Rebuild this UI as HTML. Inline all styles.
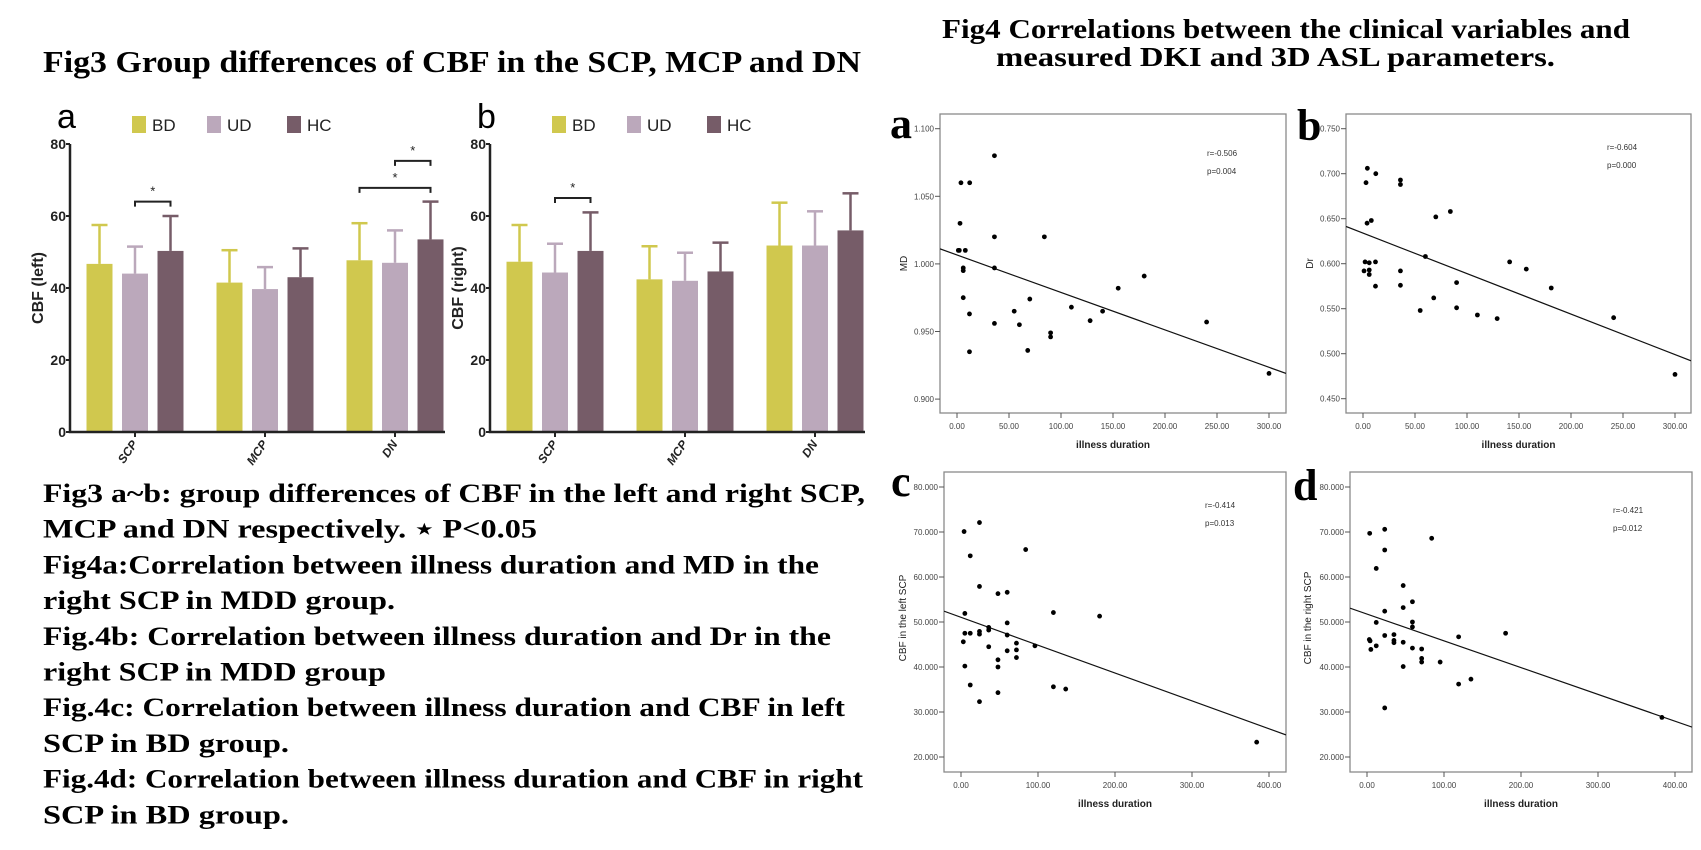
<!DOCTYPE html>
<html><head><meta charset="utf-8"><style>
html,body{margin:0;padding:0;background:#fff;}
svg{display:block;}
</style></head><body>
<svg id="root" width="1701" height="850" viewBox="0 0 1701 850" xmlns="http://www.w3.org/2000/svg">
<g font-family="Liberation Serif, serif" font-weight="bold" fill="#000">
<text x="43" y="72" font-size="31" textLength="818" lengthAdjust="spacingAndGlyphs">Fig3 Group differences of CBF in the SCP, MCP and DN</text>
<text x="942" y="38" font-size="27" textLength="688" lengthAdjust="spacingAndGlyphs">Fig4 Correlations between the clinical variables and</text>
<text x="996" y="66" font-size="27" textLength="559" lengthAdjust="spacingAndGlyphs">measured DKI and 3D ASL parameters.</text>
</g>
<g id="caption" font-family="Liberation Serif, serif" font-weight="bold" font-size="26" fill="#000"></g>
<g id="bars"></g>
<g id="scatters"></g>
</svg>
<script>
// ---- Bar chart data ----
const regions = ["SCP","MCP","DN"];
const groups = ["BD","UD","HC"];
const leftMeans = [[46.7,44.0,50.3],[41.5,39.7,43.0],[47.7,47.0,53.5]];
const leftErr   = [[57.5,51.5,60.0],[50.5,45.8,51.0],[58.0,56.0,64.0]];
const rightMeans= [[47.3,44.3,50.3],[42.4,42.0,44.6],[51.8,51.8,56.0]];
const rightErr  = [[57.5,52.3,61.0],[51.6,49.8,52.6],[63.7,61.3,66.3]];
const barTicks = [0,20,40,60,80];
const leftSig = [[0,1,2,64],[2,0,2,67.8],[2,1,2,75.3]];
const rightSig = [[0,1,2,65]];

// ---- Scatter data ----
const aX=[36,3.8,12.2,2.9,1.3,2.2,8,36,84,6,6,36,6,12,36,55,60,70,68,12,90,90,110,128,140,155,180,240,300];
const aY=[1.080,1.060,1.060,1.030,1.010,1.010,1.010,1.020,1.020,0.997,0.995,0.997,0.975,0.963,0.956,0.965,0.955,0.974,0.936,0.935,0.949,0.946,0.968,0.958,0.965,0.982,0.991,0.957,0.919];
const bX=[4.2,2.9,12.3,36,36,3.9,8,70,84,2,6,12,1,6,6,12,36,36,60,55,68,90,90,110,129,141,157,181,241,300];
const bY=[0.706,0.690,0.700,0.693,0.688,0.645,0.648,0.652,0.658,0.602,0.601,0.602,0.592,0.593,0.588,0.575,0.592,0.576,0.608,0.548,0.562,0.579,0.551,0.543,0.539,0.602,0.594,0.573,0.540,0.477];
const cX=[4,24,12,84,24,48,60,5,120,180,60,5,12,24,24,36,36,60,3,72,36,96,72,60,72,48,48,5,12,120,136,48,24,384];
const cY=[70.1,72.1,64.7,66.1,57.9,56.3,56.6,51.9,52.1,51.3,49.8,47.5,47.5,47.9,47.3,48.8,48.2,47.1,45.6,45.3,44.5,44.7,43.8,43.6,42.1,41.6,40.0,40.2,36.0,35.6,35.1,34.3,32.3,23.3];
const dX=[3.5,23,23,84,12,47,59,23,47,12,59,59,180,119,23,35,35,35,3,4,5,12,47,59,71,71,71,95,47,119,135,23,383];
const dY=[69.7,70.6,66.0,68.6,61.9,58.1,54.5,52.4,53.2,49.9,50.0,48.9,47.5,46.7,47.0,47.2,45.9,45.4,46.1,45.8,43.9,44.7,45.5,44.2,44.0,41.9,41.1,41.1,40.1,36.2,37.3,30.9,28.8];
const fitA=[1.0066,-0.000277], fitB=[0.634,-0.00045], fitC=[51.04,-0.0619], fitD=[51.76,-0.0595];
const statsA=["r=-0.506","p=0.004"], statsB=["r=-0.604","p=0.000"], statsC=["r=-0.414","p=0.013"], statsD=["r=-0.421","p=0.012"];
const ticksA=[0.900,0.950,1.000,1.050,1.100], ticksB=[0.450,0.500,0.550,0.600,0.650,0.700,0.750], ticksCD=[20,30,40,50,60,70,80];
const xTicksAB=[0,50,100,150,200,250,300], xTicksCD=[0,100,200,300,400];

const captionLines = [
 ["Fig3 a~b: group differences of CBF in the left and right SCP,",822],
 ["MCP and DN respectively.  \u22c6 P<0.05",494],
 ["Fig4a:Correlation between illness duration and MD in the",776],
 ["right SCP in MDD group.",352],
 ["Fig.4b: Correlation between illness duration and Dr in the",788],
 ["right SCP in MDD group",343],
 ["Fig.4c: Correlation between illness duration and CBF in left",802],
 ["SCP in BD group.",246],
 ["Fig.4d: Correlation between illness duration and CBF in right",820],
 ["SCP in BD group.",246]
];

const NS="http://www.w3.org/2000/svg";
function mk(tag, attrs, parent){const e=document.createElementNS(NS,tag);for(const k in attrs)e.setAttribute(k,attrs[k]);parent.appendChild(e);return e;}

// caption
const cap=document.getElementById('caption');
captionLines.forEach((l,i)=>{
  const t=mk('text',{x:43,y:502+i*35.7,textLength:l[1],lengthAdjust:'spacingAndGlyphs'},cap);
  
  
  t.textContent=l[0];
});

// bar charts
const colors=["#d0c84e","#bba8bb","#765c68"];
function barChart(ox, means, errs, sig, letter, ylabel){
  const g=mk('g',{},document.getElementById('bars'));
  
  
  const axX=70+ox;
  const y=v=>432-v*3.6;
  const gx=i=>135+ox+130*i;
  const bx=(i,j)=>gx(i)+(j-1)*35.5-13;
  const lt=mk('text',{x:57+ox,y:128,'font-family':'Liberation Sans, sans-serif','font-size':34},g);
  
  
  lt.textContent=letter;
  groups.forEach((gn,j)=>{
    const sx=[132,207,287][j]+ox;
    const r=mk('rect',{x:sx,y:116,width:14,height:17,fill:colors[j]},g);
    
    
    const t=mk('text',{x:sx+20,y:131,'font-family':'Liberation Sans, sans-serif','font-size':17,fill:'#222'},g);
    
    
    t.textContent=gn;
  });
  means.forEach((row,i)=>row.forEach((m,j)=>{
    const x=bx(i,j), c=x+13;
    const ln=mk('line',{x1:c,x2:c,y1:y(errs[i][j]),y2:y(m),stroke:colors[j],'stroke-width':2.5},g);
    
    
    const cp=mk('line',{x1:c-8,x2:c+8,y1:y(errs[i][j]),y2:y(errs[i][j]),stroke:colors[j],'stroke-width':2.5},g);
    
    
    const r=mk('rect',{x:x,y:y(m),width:26,height:y(0)-y(m),fill:colors[j]},g);
    
    
  }));
  sig.forEach(s=>{
    const x1=bx(s[0],s[1])+13, x2=bx(s[0],s[2])+13, yy=y(s[3]);
    const p=mk('path',{d:`M${x1} ${yy+5}V${yy}H${x2}V${yy+5}`,fill:'none',stroke:'#222','stroke-width':2},g);
    
    
    const t=mk('text',{x:(x1+x2)/2,y:yy-6,'text-anchor':'middle','font-family':'Liberation Sans, sans-serif','font-size':13,fill:'#222'},g);
    
    
    t.textContent='*';
  });
  const ax=mk('path',{d:`M${axX} ${y(80)}V${y(0)}H${gx(2)+50}`,fill:'none',stroke:'#222','stroke-width':2.5},g);
  
  
  barTicks.forEach(v=>{
    const tk=mk('line',{x1:axX-4,x2:axX,y1:y(v),y2:y(v),stroke:'#222','stroke-width':2},g);
    
    
    const t=mk('text',{x:axX-4,y:y(v)+5,'text-anchor':'end','font-family':'Liberation Sans, sans-serif','font-size':14,'font-weight':'bold',fill:'#222'},g);
    
    
    t.textContent=v;
  });
  regions.forEach((rn,i)=>{
    const tk=mk('line',{x1:gx(i),x2:gx(i),y1:432,y2:437,stroke:'#222','stroke-width':2},g);
    
    
    const t=mk('text',{x:gx(i)+3,y:444,'text-anchor':'end','font-family':'Liberation Sans, sans-serif','font-size':12,'font-weight':'bold','font-style':'italic',fill:'#222',transform:`rotate(-55 ${gx(i)+3} 444)`},g);
    
    
    t.textContent=rn;
  });
  const yl=mk('text',{x:0,y:0,'text-anchor':'middle','font-family':'Liberation Sans, sans-serif','font-size':16,'font-weight':'bold',fill:'#222',transform:`translate(${43+ox} 288) rotate(-90)`},g);
  
  
  yl.textContent=ylabel;
}
barChart(0,leftMeans,leftErr,leftSig,'a','CBF (left)');
barChart(420,rightMeans,rightErr,rightSig,'b','CBF (right)');

// scatter plots
function scatter(cfg){
  const g=mk('g',{},document.getElementById('scatters'));
  
  
  const X=v=>cfg.x0+v*cfg.xs, Y=v=>cfg.y0+(cfg.ymax-v)*cfg.ys;
  const [L,T,R,B]=cfg.frame;
  const cp=mk('clipPath',{id:'clip'+cfg.letter},g);
  mk('rect',{x:L,y:T,width:R-L,height:B-T},cp);
  const fr=mk('rect',{x:L,y:T,width:R-L,height:B-T,fill:'none',stroke:'#8a8a8a','stroke-width':1.3},g);
  
  
  const lt=mk('text',{x:cfg.lx,y:cfg.ly,'font-family':'Liberation Serif, serif','font-size':44,'font-weight':'bold'},g);
  
  
  lt.textContent=cfg.letter;
  cfg.yt.forEach(v=>{
    const tk=mk('line',{x1:L-5,x2:L,y1:Y(v),y2:Y(v),stroke:'#555'},g);
    
    
    const t=mk('text',{x:L-6,y:Y(v)+3,'text-anchor':'end','font-family':'Liberation Sans, sans-serif','font-size':8,fill:'#444'},g);
    
    
    t.textContent=v.toFixed(3);
  });
  cfg.xt.forEach(v=>{
    const tk=mk('line',{x1:X(v),x2:X(v),y1:B,y2:B+5,stroke:'#555'},g);
    
    
    const t=mk('text',{x:X(v),y:B+16,'text-anchor':'middle','font-family':'Liberation Sans, sans-serif','font-size':8,fill:'#444'},g);
    
    
    t.textContent=v.toFixed(2);
  });
  const xt=mk('text',{x:(L+R)/2,y:B+35,'text-anchor':'middle','font-family':'Liberation Sans, sans-serif','font-size':10,'font-weight':'bold',fill:'#222'},g);
  
  
  xt.textContent='illness duration';
  const yt=mk('text',{x:0,y:0,'text-anchor':'middle','font-family':'Liberation Sans, sans-serif','font-size':10,fill:'#222',transform:`translate(${cfg.ytx} ${(T+B)/2+(cfg.ytoff||0)}) rotate(-90)`},g);
  
  
  yt.textContent=cfg.ylabel;
  const x1=(L-cfg.x0)/cfg.xs, x2=(R-cfg.x0)/cfg.xs;
  const fl=mk('line',{x1:L,x2:R,y1:Y(cfg.fit[0]+cfg.fit[1]*x1),y2:Y(cfg.fit[0]+cfg.fit[1]*x2),stroke:'#111','stroke-width':1.2,'clip-path':`url(#clip${cfg.letter})`},g);
  
  
  cfg.xs_.forEach((xv,i)=>{
    const c=mk('circle',{cx:X(xv),cy:Y(cfg.ys_[i]),r:2.4,fill:'#000'},g);
    
    
  });
  cfg.stats.forEach((s,i)=>{
    const t=mk('text',{x:cfg.sx,y:cfg.sy+i*18,'font-family':'Liberation Sans, sans-serif','font-size':8,fill:'#333'},g);
    
    
    t.textContent=s;
  });
}
scatter({letter:'a',frame:[940,114,1286,413],x0:957,xs:1.04,y0:128.7,ymax:1.1,ys:1352,yt:ticksA,xt:xTicksAB,xs_:aX,ys_:aY,fit:fitA,stats:statsA,sx:1207,sy:156,lx:890,ly:138,ylabel:'MD',ytx:907});
scatter({letter:'b',frame:[1346,114,1691,413],x0:1363,xs:1.04,y0:128.7,ymax:0.75,ys:900,yt:ticksB,xt:xTicksAB,xs_:bX,ys_:bY,fit:fitB,stats:statsB,sx:1607,sy:150,lx:1297,ly:140,ylabel:'Dr',ytx:1313});
scatter({letter:'c',frame:[944,472,1286,772],x0:961,xs:0.77,y0:487,ymax:80,ys:4.5,yt:ticksCD,xt:xTicksCD,xs_:cX,ys_:cY,fit:fitC,stats:statsC,sx:1205,sy:508,lx:891,ly:496,ylabel:'CBF in the left SCP',ytx:906,ytoff:-4});
scatter({letter:'d',frame:[1350,472,1692,772],x0:1367,xs:0.77,y0:487,ymax:80,ys:4.5,yt:ticksCD,xt:xTicksCD,xs_:dX,ys_:dY,fit:fitD,stats:statsD,sx:1613,sy:513,lx:1293,ly:500,ylabel:'CBF in the right SCP',ytx:1311,ytoff:-4});
</script>
</body></html>
